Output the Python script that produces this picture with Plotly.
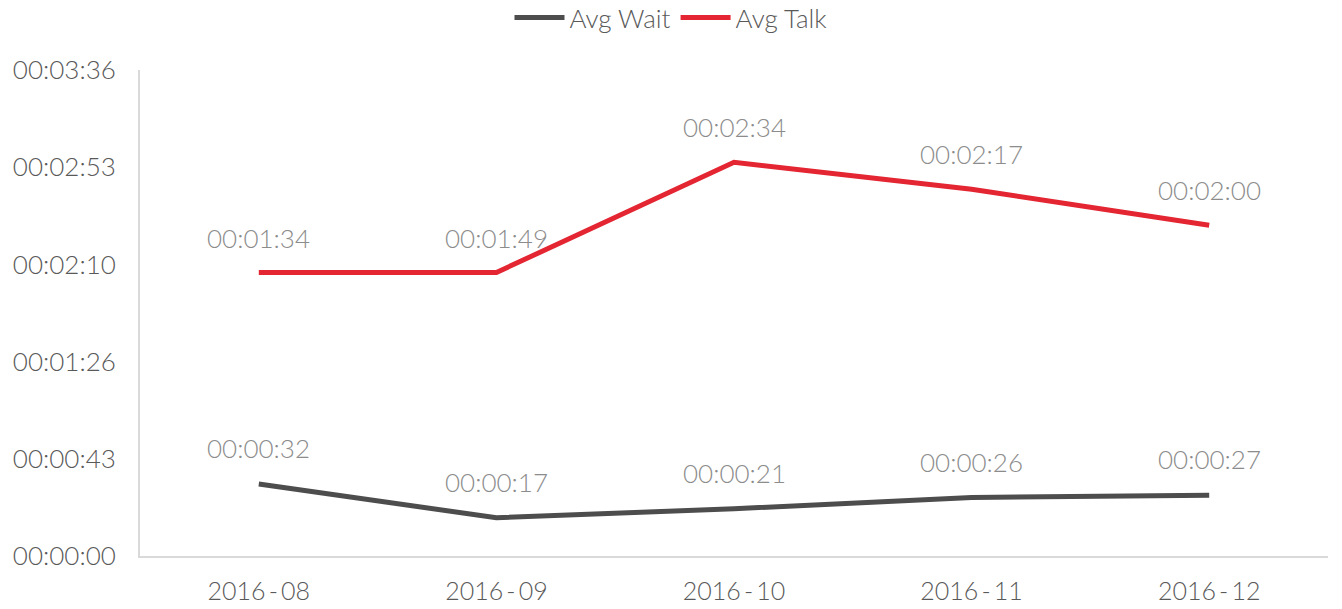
import plotly.graph_objects as go

months = ["2016-08", "2016-09", "2016-10", "2016-11", "2016-12"]
avg_wait_s = [32, 17, 21, 26, 27]
avg_talk_s = [94, 109, 154, 137, 120]
y_tick_vals = [0, 43.2, 86.4, 129.6, 172.8, 216]
y_tick_text = ["00:00:00", "00:00:43", "00:01:26", "00:02:10", "00:02:53", "00:03:36"]
x_tick_text = ["2016\u2009-\u200908", "2016\u2009-\u200909", "2016\u2009-\u200910",
               "2016\u2009-\u200911", "2016\u2009-\u200912"]

def fmt(s):
    return "%02d:%02d:%02d" % (s // 3600, (s % 3600) // 60, s % 60)

FONT = "Lato"
WAIT_C = "#4d4d4d"
TALK_C = "#e42532"
LABEL_C = "#8c8c8c"

fig = go.Figure()
fig.add_trace(go.Scatter(x=months, y=avg_wait_s, name="Avg Wait", mode="lines",
                         stackgroup="one", fill="none",
                         line=dict(color=WAIT_C, width=5), hoverinfo="skip"))
fig.add_trace(go.Scatter(x=months, y=avg_talk_s, name="Avg Talk", mode="lines",
                         stackgroup="one", fill="none",
                         line=dict(color=TALK_C, width=5), hoverinfo="skip"))

annotations = []
for i, m in enumerate(months):
    annotations.append(dict(x=m, y=avg_wait_s[i], text=fmt(avg_wait_s[i]), showarrow=False,
                            yshift=36, font=dict(family=FONT, size=26, color=LABEL_C, weight=300)))
    annotations.append(dict(x=m, y=avg_wait_s[i] + avg_talk_s[i], text=fmt(avg_talk_s[i]), showarrow=False,
                            yshift=35, font=dict(family=FONT, size=26, color=LABEL_C, weight=300)))

fig.update_layout(
    width=1342, height=609,
    margin=dict(l=140, r=14, t=70, b=53, autoexpand=False),
    paper_bgcolor="white", plot_bgcolor="white",
    font=dict(family=FONT, size=25, color="#595959", weight=300),
    showlegend=True,
    legend=dict(orientation="h", x=0.5, xanchor="center", xref="container",
                y=1.108, yref="paper", yanchor="middle",
                font=dict(size=26, color="#595959", weight=300),
                traceorder="normal", itemwidth=50),
    annotations=annotations,
    xaxis=dict(type="category", range=[-0.5, 4.5], showgrid=False, showline=True,
               linecolor="#d9d9d9", linewidth=2, ticks="", ticklabelstandoff=12,
               tickvals=months, ticktext=x_tick_text, automargin=False,
               tickfont=dict(size=25, color="#595959", weight=300)),
    yaxis=dict(range=[0, 216], tickvals=y_tick_vals, ticktext=y_tick_text, showgrid=False,
               showline=True, linecolor="#d9d9d9", linewidth=2, ticks="", zeroline=False,
               ticklabelstandoff=17, automargin=False,
               tickfont=dict(size=26, color="#595959", weight=300)),
)

fig.write_html("out.html", config={"displayModeBar": False},
               post_script="document.body.style.margin='0px';")
